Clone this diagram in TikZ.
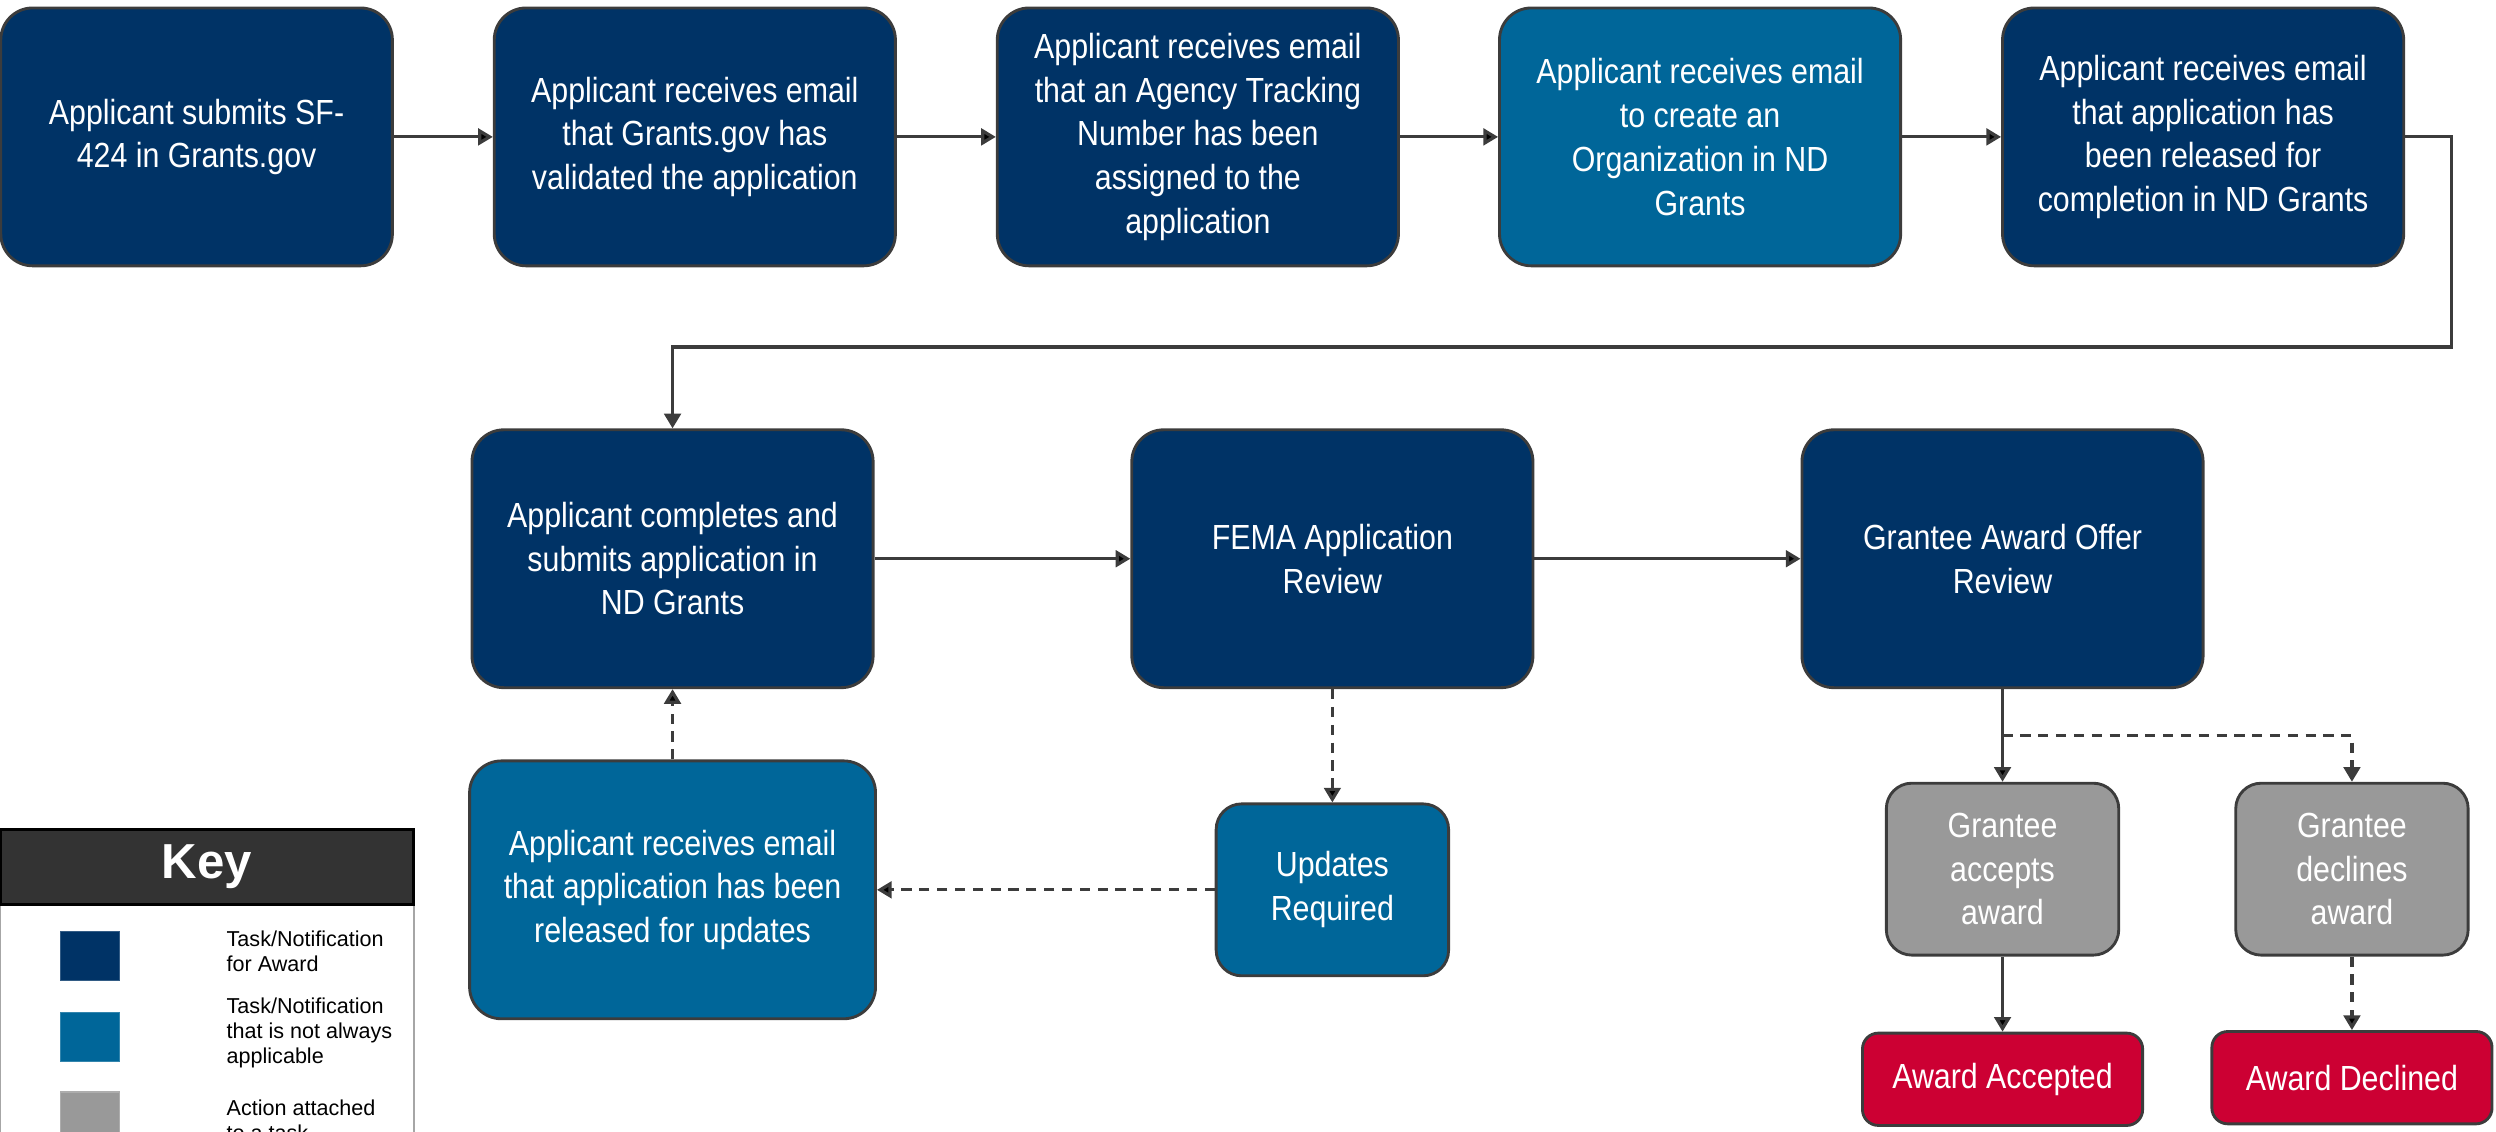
\documentclass[tikz,border=0pt]{standalone}
\usepackage{fontspec}
\setmainfont{Liberation Sans}
\newfontfamily\narrowfont{Liberation Sans}[FakeStretch=0.87]
\usetikzlibrary{arrows.meta}
\definecolor{awardblue}{RGB}{0,51,102}
\definecolor{optblue}{RGB}{0,102,153}
\definecolor{actiongray}{RGB}{153,153,153}
\definecolor{resultred}{RGB}{204,0,51}
\definecolor{edgegray}{RGB}{60,60,60}
\definecolor{keydark}{RGB}{51,51,51}
\begin{document}
\begin{tikzpicture}[x=0.5bp,y=-0.5bp]
        \tikzstyle{box}=[draw=edgegray, line width=0.9bp, text=white, align=center, inner sep=2bp, font=\narrowfont\fontsize{11}{13.8}\selectfont]
        \tikzstyle{task}=[box, fill=awardblue, rounded corners=10bp, minimum width=126bp, minimum height=81bp]
        \tikzstyle{optional}=[task, fill=optblue]
        \tikzstyle{action}=[box, fill=actiongray, rounded corners=8bp, minimum width=73bp, minimum height=54bp]
        \tikzstyle{outcome}=[box, fill=resultred, rounded corners=5bp, minimum width=88bp, minimum height=29bp]
        \tikzstyle{link}=[draw=edgegray, line width=1bp, -{Triangle[length=4.6bp,width=5.2bp]}]
        \tikzstyle{maybe}=[link, dash pattern=on 3.2bp off 2.4bp]
        \tikzstyle{keysq}=[fill=#1, draw=#1!80!white, minimum width=18.5bp, minimum height=15.5bp, inner sep=0pt]
        \tikzstyle{keytext}=[anchor=west, align=left, inner sep=0pt, font=\fontsize{6.8}{7.9}\selectfont]
        \useasboundingbox (0,0) rectangle (1568,711);
        % first row
        \node[task, minimum width=123bp] (submit) at (123.5,86) {Applicant submits SF-\\424 in Grants.gov};
        \node[task] (validated) at (436.5,86) {Applicant receives email\\that Grants.gov has\\validated the application};
        \node[task] (tracking) at (752.5,86) {Applicant receives email\\that an Agency Tracking\\Number has been\\assigned to the\\application};
        \node[optional] (organization) at (1068,86) {Applicant receives email\\to create an\\Organization in ND\\Grants};
        \node[task] (released) at (1384,86) {Applicant receives email\\that application has\\been released for\\completion in ND Grants};
        % second row
        \node[task] (complete) at (422.5,351) {Applicant completes and\\submits application in\\ND Grants};
        \node[task] (review) at (837,351) {FEMA Application\\Review};
        \node[task] (offer) at (1258,351) {Grantee Award Offer\\Review};
        % third row
        \node[optional, minimum width=127.5bp] (updemail) at (422.5,559) {Applicant receives email\\that application has been\\released for updates};
        \node[action, fill=optblue] (updates) at (837,559) {Updates\\Required};
        \node[action] (accepts) at (1258,546) {Grantee\\accepts\\award};
        \node[action] (declines) at (1477.5,546) {Grantee\\declines\\award};
        \node[outcome] (accepted) at (1258,678) {Award Accepted};
        \node[outcome] (declined) at (1477.5,677) {Award Declined};
        \coordinate (wrap) at (1540,218);
        \coordinate (split) at (1258,462);
        % connectors
        \path[link] (submit) edge (validated);
        \path[link] (validated) edge (tracking);
        \path[link] (tracking) edge (organization);
        \path[link] (organization) edge (released);
        \draw[link] (released.east) -| (wrap) -| (complete.north);
        \path[link] (complete) edge (review);
        \path[link] (review) edge (offer);
        \path[maybe] (review) edge (updates);
        \path[maybe] (updates) edge (updemail);
        \path[maybe] (updemail) edge (complete);
        \path[link] (offer) edge (accepts);
        \draw[maybe] (split) -| (declines.north);
        \path[link] (accepts) edge (accepted);
        \path[maybe] (declines) edge (declined);
        % key
        \draw[draw=gray!70, fill=white, line width=0.8bp] (0,568) rectangle (260,740);
        \node[fill=keydark, draw=black, line width=1bp, minimum width=130bp, minimum height=23.5bp, text=white, font=\bfseries\fontsize{15.5}{18}\selectfont] (keytitle) at (130,544.5) {Key};
        \node[keysq=awardblue] (sqaward) at (56.5,600.5) {};
        \node[keysq=optblue] (sqoptional) at (56.5,651.5) {};
        \node[keysq=actiongray] (sqaction) at (56.5,701.5) {};
        \node[keytext] (lbaward) at (142,597.5) {Task/Notification\\for Award};
        \node[keytext] (lboptional) at (142,649) {Task/Notification\\that is not always\\applicable};
        \node[keytext] (lbaction) at (142,704) {Action attached\\to a task};
\end{tikzpicture}
\end{document}
